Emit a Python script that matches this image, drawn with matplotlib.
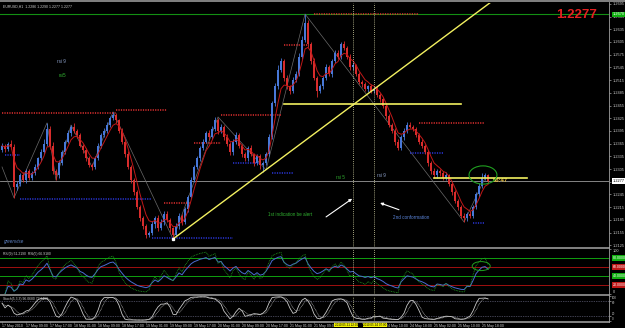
import matplotlib
matplotlib.use('Agg')
import matplotlib.pyplot as plt
import matplotlib.transforms as mtrans
from matplotlib.patches import Ellipse
from matplotlib.lines import Line2D
import numpy as np
import pandas as pd

plt.rcParams['font.family'] = ['Liberation Sans', 'DejaVu Sans']

W, H = 625, 328

# EURUSD H1 closes, 17 May 2010 01:00 -> 25 May 2010 18:00
closes = [
    1.2360, 1.2352, 1.2365, 1.2358, 1.2263, 1.2270, 1.2290, 1.2280, 1.2300, 1.2285,
    1.2295, 1.2310, 1.2330, 1.2345, 1.2365, 1.2400, 1.2360, 1.2300, 1.2290, 1.2320,
    1.2345, 1.2370, 1.2390, 1.2405, 1.2395, 1.2385, 1.2360, 1.2350, 1.2330, 1.2315,
    1.2310, 1.2330, 1.2360, 1.2385, 1.2395, 1.2410, 1.2425, 1.2432, 1.2420, 1.2395,
    1.2370, 1.2340, 1.2310, 1.2280, 1.2250, 1.2215, 1.2190, 1.2170, 1.2150, 1.2155,
    1.2175, 1.2190, 1.2165, 1.2180, 1.2200, 1.2185, 1.2165, 1.2150, 1.2170, 1.2195,
    1.2180, 1.2210, 1.2240, 1.2280, 1.2310, 1.2330, 1.2355, 1.2370, 1.2390, 1.2380,
    1.2400, 1.2420, 1.2395, 1.2405, 1.2380, 1.2365, 1.2345, 1.2370, 1.2385, 1.2360,
    1.2340, 1.2330, 1.2355, 1.2340, 1.2320, 1.2335, 1.2315, 1.2320, 1.2340, 1.2380,
    1.2460, 1.2500, 1.2540, 1.2560, 1.2520, 1.2500, 1.2490, 1.2515, 1.2530, 1.2570,
    1.2610, 1.2650, 1.2600, 1.2560, 1.2520, 1.2490, 1.2500, 1.2520, 1.2545, 1.2530,
    1.2560, 1.2580, 1.2570, 1.2600, 1.2590, 1.2570, 1.2545, 1.2550, 1.2530, 1.2510,
    1.2505, 1.2495, 1.2500, 1.2490, 1.2495, 1.2480, 1.2470, 1.2455, 1.2430, 1.2410,
    1.2395, 1.2370, 1.2355, 1.2380, 1.2395, 1.2410, 1.2405, 1.2400, 1.2385, 1.2370,
    1.2360, 1.2345, 1.2320, 1.2300, 1.2290, 1.2300, 1.2295, 1.2285, 1.2290, 1.2270,
    1.2250, 1.2230, 1.2215, 1.2195, 1.2190, 1.2200, 1.2195, 1.2215, 1.2245, 1.2265,
    1.2285, 1.2290, 1.2277,
]
first_open = 1.2350

# upper / lower shadows in pips
wick_up = [
    6, 5, 4, 8, 5, 6, 5, 7, 4, 6,  5, 6, 4, 7, 10, 14, 6, 8, 5, 6,
    5, 4, 7, 4, 8, 5, 6, 4, 5, 6,  4, 5, 6, 4, 7, 5, 6, 8, 5, 4,
    6, 5, 7, 4, 5, 6, 4, 5, 6, 4,  7, 5, 6, 8, 5, 6, 5, 4, 7, 6,
    5, 6, 4, 7, 5, 6, 4, 5, 6, 7,  6, 8, 5, 6, 4, 7, 5, 6, 8, 5,
    4, 6, 5, 7, 4, 6, 5, 4, 6, 8,  6, 7, 10, 8, 5, 6, 4, 7, 6, 8,
    9, 20, 6, 5, 7, 4, 6, 5, 8, 6,  5, 7, 6, 4, 8, 5, 6, 7, 4, 5,
    6, 5, 4, 6, 5, 7, 4, 5, 6, 5,  4, 6, 7, 5, 8, 7, 6, 5, 4, 6,
    5, 4, 6, 5, 7, 4, 6, 5, 7, 4,  5, 6, 4, 5, 6, 4, 7, 5, 6, 8,
    10, 6, 4,
]
wick_dn = [
    5, 7, 4, 6, 26, 8, 5, 6, 7, 5,  6, 4, 5, 7, 5, 6, 8, 6, 11, 5,
    6, 5, 4, 7, 5, 6, 4, 7, 5, 6,  7, 5, 4, 6, 5, 4, 6, 5, 7, 6,
    5, 6, 4, 7, 6, 5, 7, 6, 8, 6,  5, 8, 6, 5, 7, 6, 9, 8, 5, 6,
    7, 5, 6, 4, 5, 6, 7, 5, 4, 6,  5, 6, 7, 5, 6, 5, 7, 6, 5, 6,
    7, 5, 6, 4, 8, 5, 9, 17, 6, 5,  4, 6, 5, 7, 6, 5, 8, 6, 4, 5,
    6, 5, 7, 6, 5, 15, 6, 5, 4, 6,  7, 5, 6, 5, 4, 6, 7, 5, 6, 5,
    6, 5, 7, 6, 5, 4, 6, 5, 7, 6,  5, 8, 6, 5, 6, 5, 4, 6, 5, 7,
    6, 5, 7, 6, 5, 6, 7, 5, 6, 5,  6, 5, 7, 6, 10, 8, 6, 5, 4, 6,
    5, 7, 4,
]

# every 8th bar; the two labels hidden by the yellow tags are left blank
time_labels = ['17 May 2010', '17 May 09:00', '17 May 17:00', '18 May 01:00', '18 May 09:00',
               '18 May 17:00', '19 May 01:00', '19 May 09:00', '19 May 17:00', '20 May 01:00',
               '20 May 09:00', '20 May 17:00', '21 May 01:00', '21 May 09:00', '',
               '', '24 May 10:00', '24 May 18:00', '25 May 02:00', '25 May 10:00',
               '25 May 18:00']
price_ticks = [1.2125, 1.2155, 1.2185, 1.2215, 1.2245, 1.2275, 1.2305, 1.2335, 1.2365, 1.2395,
               1.2425, 1.2455, 1.2485, 1.2515, 1.2545, 1.2575, 1.2605, 1.2635, 1.2665, 1.2695]

# support / resistance dotted levels: (price, from bar, to bar)
res_levels = [(1.2437, 0, 38), (1.2445, 38, 55), (1.2225, 54, 63), (1.2367, 64, 73),
              (1.2433, 73, 93), (1.2598, 94, 102), (1.2671, 104, 139), (1.2414, 139, 161)]
sup_levels = [(1.2338, 1, 6), (1.2235, 6, 50), (1.2142, 50, 77), (1.2319, 77, 86),
              (1.2296, 90, 97), (1.2343, 136, 147), (1.2178, 157, 161)]

zz_bars = [0, 4, 15, 18, 23, 30, 37, 57, 72, 88, 101, 154, 161]
zz_prices = [1.2310, 1.2237, 1.2414, 1.2279, 1.2409, 1.2310, 1.2440, 1.2140, 1.2428,
             1.2303, 1.2671, 1.2180, 1.2284]

trend_bars = [57, 165]
trend_prices = [1.2140, 1.2710]
hlines_yellow = [(1.2459, 94, 153), (1.2284, 144, 175)]
vlines_bars = [117, 124]
vline_tags = ['2010.05.21 22:00', '2010.05.24 07:00']
bid = 1.2277
green_level = 1.2670

# ---- derived series
idx = np.arange(len(closes))
c = pd.Series(closes)
o = pd.Series([first_open] + closes[:-1])
hi = pd.Series(np.maximum(o, c) + np.array(wick_up) * 0.0001)
lo = pd.Series(np.minimum(o, c) - np.array(wick_dn) * 0.0001)


def rsi_calc(s, n):
    d = s.diff()
    up = d.clip(lower=0).ewm(alpha=1 / n, adjust=False).mean()
    dn = (-d.clip(upper=0)).ewm(alpha=1 / n, adjust=False).mean()
    return 100 - 100 / (1 + up / dn)


rsi9 = rsi_calc(c, 9)
rsi5 = rsi_calc(c, 5)
ll = lo.rolling(5, min_periods=1).min()
hh = hi.rolling(5, min_periods=1).max()
stk = (c - ll).rolling(3, min_periods=1).sum() / (hh - ll).rolling(3, min_periods=1).sum() * 100
std = stk.rolling(3, min_periods=1).mean()
ma = c.ewm(span=5, adjust=False).mean()

# ---- figure
fig = plt.figure(figsize=(W / 100, H / 100), dpi=100, facecolor='black')


def px_axes(x0, y0, x1, y1):
    a = fig.add_axes([x0 / W, 1 - y1 / H, (x1 - x0) / W, (y1 - y0) / H])
    a.set_facecolor('black')
    for s in a.spines.values():
        s.set_visible(False)
    a.set_xlim(-0.67, 202.3)
    a.yaxis.tick_right()
    a.tick_params(axis='y', colors='#c8c8c8', labelsize=2.8, length=1.5, width=0.4, pad=1)
    a.set_xticks([])
    return a


ax = px_axes(0, 3, 609, 247)
ax_rsi = px_axes(0, 249, 609, 294)
ax_st = px_axes(0, 296, 609, 321)

# main chart
ax.set_ylim(1.2121, 1.2697)
ax.set_yticks(price_ticks)
ax.set_yticklabels([f'{p:.4f}' for p in price_ticks])

bull = (c >= o).values
col = np.where(bull, '#4878d8', '#d82c2c')
ax.vlines(idx, lo, hi, colors=col, lw=0.6, zorder=3)
body = np.maximum(np.abs(c - o).values, 0.00006)
ax.bar(idx, body, bottom=np.minimum(o, c).values, width=0.7, color=col, lw=0, zorder=3)
ax.plot(idx, ma, color='#c01818', lw=0.7, zorder=4)
ax.plot(zz_bars, zz_prices, color='#6a6a6a', lw=0.5, zorder=2)

for p, a, b in res_levels:
    ax.plot([a, b], [p, p], color='#e03030', lw=1.1, ls=(0, (0.8, 0.8)), zorder=2)
for p, a, b in sup_levels:
    ax.plot([a, b], [p, p], color='#2a36d8', lw=1.1, ls=(0, (0.8, 0.8)), zorder=2)

ax.axhline(green_level, color='#139013', lw=0.8, zorder=1)
ax.axhline(bid, color='#9a9a9a', lw=0.6, zorder=1)
ax.plot(trend_bars, trend_prices, color='#f2f060', lw=1.0, zorder=5)
ax.plot(trend_bars[0], trend_prices[0], 's', color='white', ms=1.4, zorder=6)
for p, a, b in hlines_yellow:
    ax.plot([a, b], [p, p], color='#f2f060', lw=1.2, zorder=5)
ax.add_patch(Ellipse((160.3, 1.2291), 9.3, 0.0043, fill=False, ec='#20a020', lw=0.8, zorder=6))

tr = mtrans.blended_transform_factory(ax.transAxes, ax.transData)
ax.text(1.006, bid, f'{bid:.4f}', transform=tr, fontsize=2.8, color='black', va='center',
        bbox=dict(fc='white', ec='none', pad=0.6), zorder=7, clip_on=False)
ax.text(1.006, green_level, f'{green_level:.4f}', transform=tr, fontsize=2.8, color='white',
        va='center', bbox=dict(fc='#10b010', ec='none', pad=0.6), zorder=7, clip_on=False)

ax.text(0.005, 0.992, 'EURUSD,H1  1.2286 1.2290 1.2277 1.2277', transform=ax.transAxes,
        fontsize=2.5, color='#d0d0d0', va='top')
ax.text(0.98, 0.975, '1.2277', transform=ax.transAxes, fontsize=9.5, fontweight='bold',
        color='#e42020', ha='right', va='top')

ax.text(18.3, 1.2560, 'rsi 9', fontsize=3.3, color='#8ea2cc', va='center')
ax.text(19.0, 1.2525, 'rsi5', fontsize=3.3, color='#30b030', va='center')
ax.text(111.3, 1.2286, 'rsi 5', fontsize=3.3, color='#30b030', va='center')
ax.text(125.0, 1.2289, 'rsi 9', fontsize=3.3, color='#8ea2cc', va='center')
ax.text(88.7, 1.2197, '1st indication be alert', fontsize=3.3, color='#30b030', va='center')
ax.text(130.3, 1.2190, '2nd conformation', fontsize=3.3, color='#5a84d8', va='center')
ax.text(0.5, 1.2135, 'greenvise', fontsize=3.3, color='#5c7fc0', style='italic', va='center')
ax.text(163.7, 1.2277, '56:47', fontsize=4.2, color='#e8c040', fontweight='bold', va='center')

arrow = dict(arrowstyle='-|>', color='white', lw=0.8, mutation_scale=4, shrinkA=0, shrinkB=0)
ax.annotate('', xy=(116.7, 1.2235), xytext=(108.0, 1.2192), arrowprops=arrow, zorder=6)
ax.annotate('', xy=(126.0, 1.2225), xytext=(132.3, 1.2209), arrowprops=arrow, zorder=6)

# RSI panel
ax_rsi.set_ylim(0, 100)
ax_rsi.set_yticks([100, 0])
ax_rsi.set_yticklabels(['100', '0'])
rl = ax_rsi.get_yticklabels()
rl[0].set_va('top')
rl[1].set_va('bottom')
tr_r = mtrans.blended_transform_factory(ax_rsi.transAxes, ax_rsi.transData)
for lvl, lc, bc in [(80, '#10a010', '#10b010'), (60, '#a01010', '#c01818'),
                    (40, '#10a010', '#10b010'), (20, '#a01010', '#c01818')]:
    ax_rsi.axhline(lvl, color=lc, lw=0.7)
    ax_rsi.text(1.006, lvl, f'{lvl:.4f}', transform=tr_r, fontsize=2.5, color='white', va='center',
                bbox=dict(fc=bc, ec='none', pad=0.5), clip_on=False)
ax_rsi.plot(idx, rsi9, color='#4a6cd0', lw=0.7)
ax_rsi.plot(idx, rsi5, color='#22a022', lw=0.6, ls=(0, (1, 1)))
ax_rsi.add_patch(Ellipse((159.7, 62), 6, 20, fill=False, ec='#20a020', lw=0.7, zorder=5))
ax_rsi.text(0.005, 0.93, 'RSI(9) 51.2190  RSI(5) 66.9180', transform=ax_rsi.transAxes,
            fontsize=2.4, color='#d0d0d0', va='top')

# Stochastic panel
ax_st.set_ylim(0, 100)
ax_st.set_yticks([100, 80, 20, 0])
ax_st.set_yticklabels(['100', '80', '20', '0'])
ax_st.tick_params(axis='y', labelsize=2.2, pad=0.8)
sl = ax_st.get_yticklabels()
sl[0].set_va('top')
sl[1].set_va('top')
sl[2].set_va('bottom')
sl[3].set_va('bottom')
for lvl in (80, 20):
    ax_st.axhline(lvl, color='#8080a0', lw=0.5, ls=(0, (1, 1.5)))
ax_st.plot(idx, stk, color='#c8c8c8', lw=0.6)
ax_st.plot(idx, std, color='#c8c8c8', lw=0.5, ls=(0, (1, 1)))
ax_st.text(0.005, 0.95, 'Stoch(5,3,3) 96.0680 77.3490', transform=ax_st.transAxes,
           fontsize=2.4, color='#d0d0d0', va='top')
ax_st.set_xticks(np.arange(len(time_labels)) * 8)
ax_st.set_xticklabels(time_labels, ha='left')
ax_st.tick_params(axis='x', colors='#c8c8c8', labelsize=2.6, length=1.5, width=0.4, pad=1)
ax_st.get_xticklabels()[16].set_x(129.2)

# vertical marker lines through every panel
for a in (ax, ax_rsi, ax_st):
    for vb in vlines_bars:
        a.axvline(vb, color='#d8d8a8', lw=0.6, ls=(0, (1, 1.5)), zorder=5)
tr_s = mtrans.blended_transform_factory(ax_st.transData, ax_st.transAxes)
for vb, tag, ha, dx in zip(vlines_bars, vline_tags, ['right', 'center'], [1.6, 0.2]):
    ax_st.text(vb + dx, -0.14, tag, transform=tr_s, fontsize=2.2,
               color='black', ha=ha, va='center', bbox=dict(fc='#f0f000', ec='none', pad=0.3),
               clip_on=False, zorder=10)

# window separators
for yy in (1, 248, 295, 321.5):
    fig.add_artist(Line2D([0, 609 / W if yy > 1 else 1], [1 - yy / H] * 2, color='#8c8c8c', lw=1.3))
fig.add_artist(Line2D([609 / W] * 2, [1 - 321.5 / H, 1 - 2 / H], color='#a0a0a0', lw=0.6))

fig.savefig('out.png', dpi=100, facecolor='black')
